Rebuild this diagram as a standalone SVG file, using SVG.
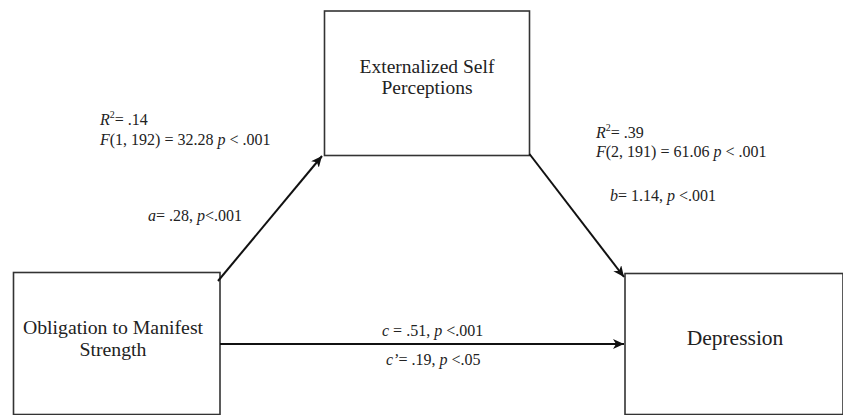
<svg xmlns="http://www.w3.org/2000/svg" width="843" height="415" viewBox="0 0 843 415">
<style>
.box{fill:#fff;stroke:#333;stroke-width:1.6}
.t{font-family:"Liberation Serif","Times New Roman",serif;fill:#222}
.lbl{font-size:16px}
.node{font-size:19.5px}
.i{font-style:italic}
.con{stroke:#111;stroke-width:2;fill:none;marker-end:url(#ah)}
</style>
<defs>
<marker id="ah" markerUnits="userSpaceOnUse" markerWidth="12" markerHeight="10" refX="11" refY="5" orient="auto">
<path d="M0,0 L11,5 L0,10 L3,5 z" fill="#111"/>
</marker>
</defs>
<g id="node-externalized">
<rect class="box" x="324.5" y="11" width="205" height="144.5"/>
<text class="t node" x="427" y="73" text-anchor="middle">Externalized Self</text>
<text class="t node" x="427" y="94" text-anchor="middle">Perceptions</text>
</g>
<g id="node-obligation">
<rect class="box" x="13.5" y="272.5" width="206.5" height="142"/>
<text class="t node" x="113" y="333.5" text-anchor="middle" style="font-size:19.8px">Obligation to Manifest</text>
<text class="t node" x="113" y="355.5" text-anchor="middle" style="font-size:19.8px">Strength</text>
</g>
<g id="node-depression">
<rect class="box" x="625" y="273.5" width="218" height="141"/>
<text class="t" x="735" y="345" text-anchor="middle" style="font-size:21.5px">Depression</text>
</g>
<g id="connectors">
<line class="con" x1="218" y1="281" x2="322" y2="156"/>
<line class="con" x1="529.5" y1="154" x2="624" y2="277"/>
<line class="con" x1="220" y1="344" x2="624" y2="344"/>
</g>
<g id="labels">
<text class="t lbl" x="100" y="125"><tspan class="i">R</tspan><tspan dy="-7" style="font-size:10px">2</tspan><tspan dy="7">= .14</tspan></text>
<text class="t lbl" x="100" y="144.5"><tspan class="i">F</tspan>(1, 192) = 32.28 <tspan class="i">p</tspan> &lt; .001</text>
<text class="t lbl" x="148" y="221"><tspan class="i">a</tspan>= .28, <tspan class="i">p</tspan>&lt;.001</text>
<text class="t lbl" x="596" y="137.5"><tspan class="i">R</tspan><tspan dy="-7" style="font-size:10px">2</tspan><tspan dy="7">= .39</tspan></text>
<text class="t lbl" x="596" y="157"><tspan class="i">F</tspan>(2, 191) = 61.06 <tspan class="i">p</tspan> &lt; .001</text>
<text class="t lbl" x="610" y="201"><tspan class="i">b</tspan>= 1.14, <tspan class="i">p</tspan> &lt;.001</text>
<text class="t lbl" x="382" y="336"><tspan class="i">c</tspan> = .51, <tspan class="i">p</tspan> &lt;.001</text>
<text class="t lbl" x="386" y="364.5"><tspan class="i">c’</tspan>= .19, <tspan class="i">p</tspan> &lt;.05</text>
</g>
</svg>
